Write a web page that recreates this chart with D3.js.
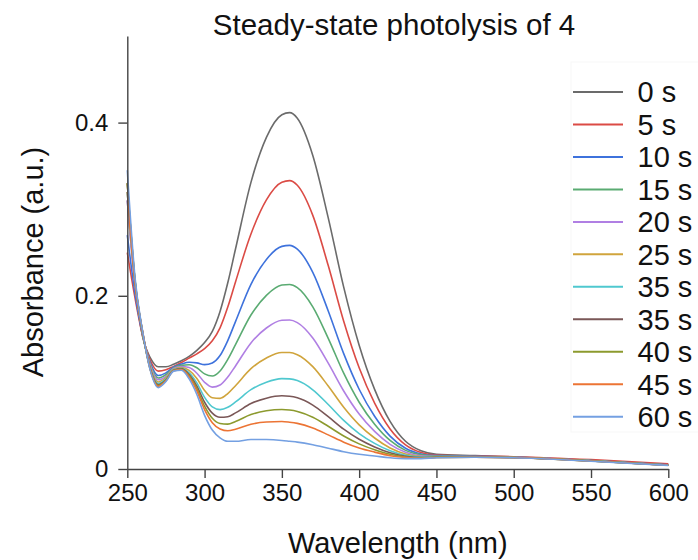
<!DOCTYPE html>
<html>
<head>
<meta charset="utf-8">
<script src="https://cdn.jsdelivr.net/npm/d3@7"></script>
<style>
  html, body { margin: 0; padding: 0; background: #fff; }
  svg { display: block; font-family: "Liberation Sans", Arial, Helvetica, sans-serif; }
</style>
</head>
<body>
<svg id="chart" width="698" height="560"></svg>
<script>
// Wavelength grid (nm)
const wavelengths = [250,255,260,265,270,275,280,285,290,295,300,305,310,315,320,330,340,350,355,360,370,380,390,400,410,420,430,440,450,475,500,550,600];

// Absorbance spectra recorded during irradiation
const abs0s  = [.310,.2125,.152,.128,.118,.118,.121,.125,.130,.137,.146,.159,.182,.215,.254,.331,.383,.409,.4115,.405,.362,.290,.210,.143,.092,.055,.032,.021,.017,.0155,.014,.010,.005];
const abs5s  = [.250,.1975,.153,.125,.113,.1145,.1185,.123,.128,.133,.139,.148,.163,.187,.216,.2714,.3108,.3312,.333,.3276,.2929,.2349,.1707,.1169,.0761,.0463,.0279,.0191,.0162,.0151,.0142,.0108,.0060];
const abs10s = [.270,.2025,.154,.122,.108,.111,.1178,.1212,.1232,.1225,.1205,.1225,.131,.1483,.1702,.2132,.242,.2571,.2582,.2539,.2271,.1825,.1332,.0921,.0609,.038,.0239,.0174,.0154,.0147,.0136,.0098,.0047];
const abs15s = [.320,.215,.155,.120,.105,.109,.1168,.1197,.1204,.1169,.1098,.1074,.1132,.1266,.1436,.1778,.2005,.2124,.213,.2094,.1873,.1509,.1106,.0771,.0517,.033,.0215,.0163,.0149,.0145,.0135,.0097,.0046];
const abs20s = [.310,.2125,.156,.119,.103,.107,.116,.1184,.1171,.1106,.1001,.0946,.097,.1062,.119,.1456,.1628,.1717,.172,.169,.1512,.1222,.0901,.0635,.0434,.0285,.0194,.0153,.0145,.0142,.0134,.0096,.0045];
const abs25s = [.330,.2175,.156,.117,.1005,.1056,.1152,.1172,.1138,.1046,.0907,.0822,.0816,.0871,.0962,.1158,.1282,.1345,.1345,.132,.1182,.0958,.0713,.051,.0358,.0243,.0174,.0144,.0141,.014,.0133,.0095,.0045];
const abs35sA = [.320,.215,.157,.116,.0986,.104,.1145,.1163,.1111,.0994,.0827,.0717,.0686,.0712,.0774,.0916,.1003,.1044,.1041,.1021,.0915,.0745,.0561,.0409,.0296,.021,.0158,.0137,.0138,.0139,.0132,.0094,.0044];
const abs35sB = [.330,.2175,.157,.115,.0973,.103,.1141,.1156,.1092,.0958,.0771,.0645,.0597,.0604,.0648,.0756,.0818,.0845,.084,.0822,.0738,.0604,.046,.0343,.0255,.0188,.0147,.0132,.0135,.0138,.0132,.0093,.0044];
const abs40s = [.330,.2175,.157,.114,.0963,.1026,.1138,.1151,.1077,.0928,.0726,.0586,.0526,.0518,.0549,.0629,.0672,.0687,.0681,.0665,.0597,.0493,.0381,.029,.0223,.017,.0139,.0129,.0134,.0137,.0131,.0093,.0043];
const abs45s = [.320,.215,.158,.114,.0954,.102,.1135,.1147,.1063,.0902,.0686,.0535,.0463,.0442,.046,.0517,.0542,.0548,.054,.0527,.0474,.0394,.031,.0243,.0195,.0154,.0132,.0125,.0132,.0136,.0131,.0092,.0043];
const abs60s = [.345,.221,.158,.113,.094,.101,.113,.114,.104,.086,.062,.045,.036,.032,.032,.034,.034,.033,.032,.031,.028,.024,.020,.017,.015,.013,.012,.012,.013,.0135,.013,.009,.0042];

const seriesLabels = ["0 s","5 s","10 s","15 s","20 s","25 s","35 s","35 s","40 s","45 s","60 s"];
const seriesValues = [abs0s, abs5s, abs10s, abs15s, abs20s, abs25s, abs35sA, abs35sB, abs40s, abs45s, abs60s];
const palette = ["#6b6b6b","#db4b45","#3e72dc","#5aab72","#b07fe3","#d0a43c","#4fc8cf","#7a5757","#8c9a2e","#ec7434","#74a0e2"];

const xTicks = [250,300,350,400,450,500,550,600];
const yTicks = [0, 0.2, 0.4];

const svg = d3.select("#chart");

const x = d3.scaleLinear().domain([250, 600]).range([127.3, 668.3]);
const y = d3.scaleLinear().domain([0, 0.5]).range([469, 36]);

// Spectra
const line = d3.line()
  .x(d => x(d[0]))
  .y(d => y(d[1]))
  .curve(d3.curveMonotoneX);

svg.append("g")
  .selectAll("path")
  .data(seriesValues)
  .join("path")
  .attr("fill", "none")
  .attr("stroke", (d, i) => palette[i])
  .attr("stroke-width", 1.6)
  .attr("stroke-linejoin", "round")
  .attr("d", vals => line(wavelengths.map((w, j) => [w, vals[j]])));

// Axes
const xAxis = d3.axisBottom(x).tickValues(xTicks).tickFormat(d3.format("d")).tickSize(9).tickSizeOuter(0).tickPadding(6);
const yAxis = d3.axisLeft(y).tickValues(yTicks).tickFormat(d => d === 0 ? "0" : d3.format(".1f")(d)).tickSize(9).tickSizeOuter(0).tickPadding(10);

const gx = svg.append("g").attr("transform", "translate(0,469)").call(xAxis);
const gy = svg.append("g").attr("transform", "translate(127.3,0)").call(yAxis);

[gx, gy].forEach(g => {
  g.selectAll("path.domain").attr("stroke", "#444").attr("stroke-width", 1.4);
  g.selectAll(".tick line").attr("stroke", "#444").attr("stroke-width", 1.4);
  g.selectAll(".tick text")
    .attr("fill", "#111")
    .style("font-size", "24px")
    .style("font-family", "'Liberation Sans', Arial, Helvetica, sans-serif");
});
gx.selectAll(".tick text").attr("dy", "0.71em");

// Title and axis titles
svg.append("text")
  .attr("x", 394).attr("y", 35)
  .attr("text-anchor", "middle")
  .style("font-size", "29.5px")
  .attr("fill", "#111")
  .text("Steady-state photolysis of 4");

svg.append("text")
  .attr("x", 397.8).attr("y", 553)
  .attr("text-anchor", "middle")
  .style("font-size", "29px")
  .attr("fill", "#111")
  .text("Wavelength (nm)");

svg.append("text")
  .attr("transform", "translate(43,262) rotate(-90)")
  .attr("text-anchor", "middle")
  .style("font-size", "29px")
  .attr("fill", "#111")
  .text("Absorbance (a.u.)");

// Legend
const legend = svg.append("g");
legend.append("rect")
  .attr("x", 571).attr("y", 62).attr("width", 140).attr("height", 370)
  .attr("fill", "#fff").attr("stroke", "#f7f7f7").attr("stroke-width", 1);

const rowY = i => 92 + i * 32.47;
const items = legend.selectAll("g.item")
  .data(seriesLabels)
  .join("g")
  .attr("class", "item")
  .attr("transform", (d, i) => `translate(0,${rowY(i)})`);

items.append("line")
  .attr("x1", 573).attr("x2", 623)
  .attr("y1", 0).attr("y2", 0)
  .attr("stroke", (d, i) => palette[i])
  .attr("stroke-width", 2);

items.append("text")
  .attr("x", 637.5).attr("y", 10.4)
  .style("font-size", "29px")
  .attr("fill", "#111")
  .text(d => d);
</script>
</body>
</html>
